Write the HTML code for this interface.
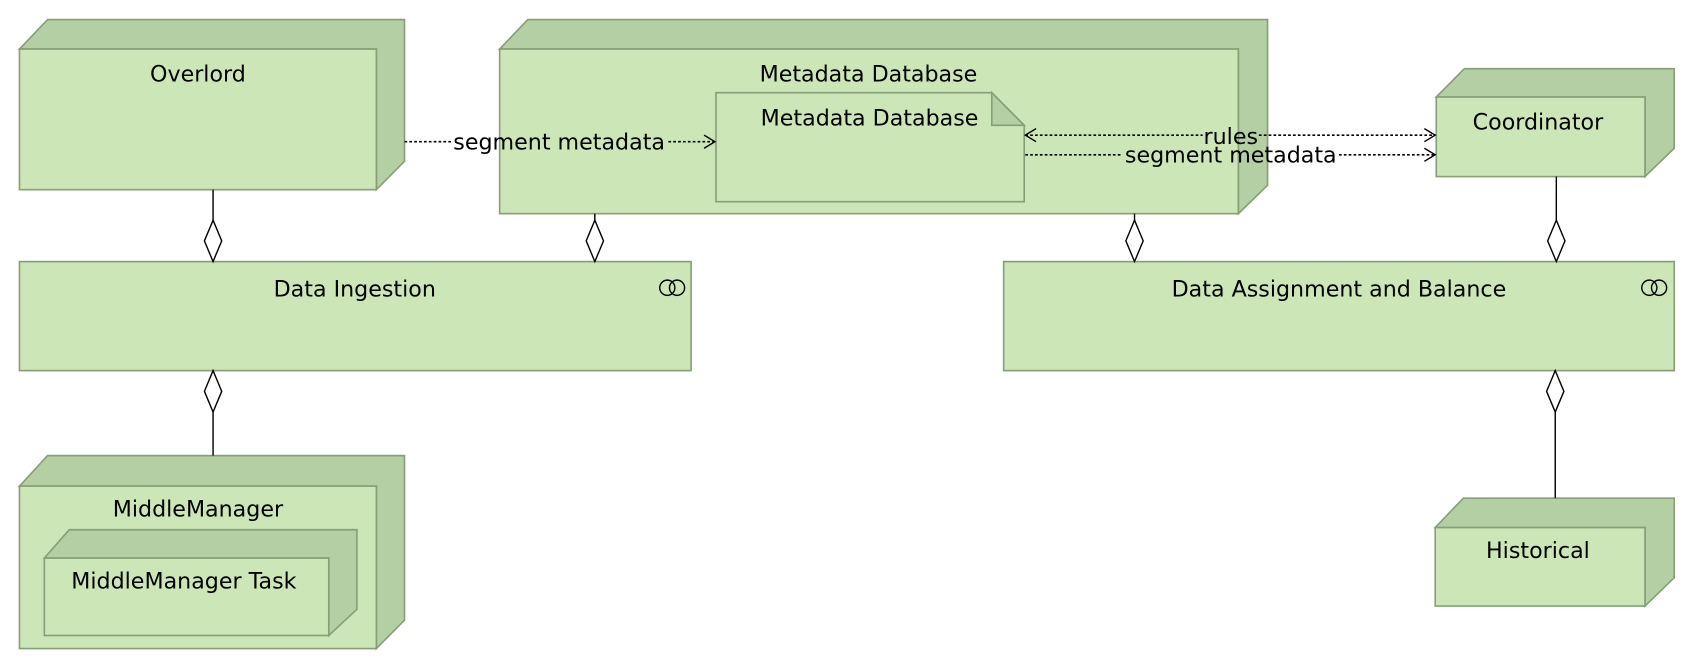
<!DOCTYPE html>
<html><head><meta charset="utf-8"><style>
html,body{margin:0;padding:0;background:#fff;width:1698px;height:666px;overflow:hidden}
svg{display:block}
text{font-family:"DejaVu Sans","Liberation Sans",sans-serif;font-size:20.5px;fill:#000}
.f{fill:#cce6b7;stroke:#879f78;stroke-width:1.5}
.d{fill:#b4cfa3;stroke:#879f78;stroke-width:1.5}
.l{stroke:#000;stroke-width:1.3;fill:none}
.dot{stroke:#000;stroke-width:1.5;fill:none;stroke-dasharray:2.5,2}
.dia{fill:#fff;stroke:#000;stroke-width:1.3}
</style></head><body>
<svg width="1698" height="666" viewBox="0 0 1570 611" preserveAspectRatio="none">
<polygon class="d" points="18,45 44,18 374,18 374,148 348,174 348,45"/>
<rect class="f" x="18" y="45" width="330" height="129"/>
<text x="183" y="75" text-anchor="middle">Overlord</text>
<polygon class="d" points="462,45 488,18 1172,18 1172,170 1145,196 1145,45"/>
<rect class="f" x="462" y="45" width="683" height="151"/>
<text x="803" y="75" text-anchor="middle">Metadata Database</text>
<polygon class="f" points="662,85 917,85 947,115 947,185 662,185"/>
<polygon class="d" points="917,85 947,115 917,115"/>
<text x="804" y="115" text-anchor="middle">Metadata Database</text>
<polygon class="d" points="1328,89 1354,63 1548,63 1548,136 1521,162 1521,89"/>
<rect class="f" x="1328" y="89" width="193" height="73"/>
<text x="1422" y="119" text-anchor="middle">Coordinator</text>
<rect class="f" x="18" y="240" width="621" height="100"/>
<text x="328" y="272" text-anchor="middle">Data Ingestion</text>
<circle cx="617" cy="264" r="7" class="l" stroke-width="1.8"/><circle cx="626" cy="264" r="7" class="l" stroke-width="1.8"/>
<rect class="f" x="928" y="240" width="620" height="100"/>
<text x="1238" y="272" text-anchor="middle">Data Assignment and Balance</text>
<circle cx="1525" cy="264" r="7" class="l" stroke-width="1.8"/><circle cx="1534" cy="264" r="7" class="l" stroke-width="1.8"/>
<polygon class="d" points="18,446 44,418 374,418 374,569 348,595 348,446"/>
<rect class="f" x="18" y="446" width="330" height="149"/>
<text x="183" y="474" text-anchor="middle">MiddleManager</text>
<polygon class="d" points="41,512 64,486 330,486 330,559 304,583 304,512"/>
<rect class="f" x="41" y="512" width="263" height="71"/>
<text x="170" y="540" text-anchor="middle">MiddleManager Task</text>
<polygon class="d" points="1327,484 1353,457 1548,457 1548,530 1521,556 1521,484"/>
<rect class="f" x="1327" y="484" width="194" height="72"/>
<text x="1422" y="512" text-anchor="middle">Historical</text>
<line class="l" x1="197" y1="174" x2="197" y2="202"/><polygon class="dia" points="197,202 205,221 197,240 189,221"/>
<line class="l" x1="550" y1="196" x2="550" y2="202"/><polygon class="dia" points="550,202 558,221 550,240 542,221"/>
<line class="l" x1="1049" y1="196" x2="1049" y2="202"/><polygon class="dia" points="1049,202 1057,221 1049,240 1041,221"/>
<line class="l" x1="1439" y1="162" x2="1439" y2="202"/><polygon class="dia" points="1439,202 1447,221 1439,240 1431,221"/>
<polygon class="dia" points="197,340 205,359 197,378 189,359"/><line class="l" x1="197" y1="378" x2="197" y2="418"/>
<polygon class="dia" points="1438,340 1446,359 1438,378 1430,359"/><line class="l" x1="1438" y1="378" x2="1438" y2="457"/>
<line class="dot" x1="374" y1="130" x2="418" y2="130"/>
<line class="dot" x1="618" y1="130" x2="661" y2="130"/>
<polyline class="l" stroke-width="1.5" points="651,124 661,130 651,136"/>
<text x="517" y="137" text-anchor="middle">segment metadata</text>
<line class="dot" x1="948" y1="124" x2="1112" y2="124"/>
<line class="dot" x1="1164" y1="124" x2="1327" y2="124"/>
<polyline class="l" stroke-width="1.5" points="958,118 948,124 958,130"/>
<polyline class="l" stroke-width="1.5" points="1317,118 1327,124 1317,130"/>
<text x="1138" y="132" text-anchor="middle">rules</text>
<line class="dot" x1="948" y1="142" x2="1038" y2="142"/>
<line class="dot" x1="1238" y1="142" x2="1327" y2="142"/>
<polyline class="l" stroke-width="1.5" points="1317,136 1327,142 1317,148"/>
<text x="1138" y="149" text-anchor="middle">segment metadata</text>
</svg>
</body></html>
